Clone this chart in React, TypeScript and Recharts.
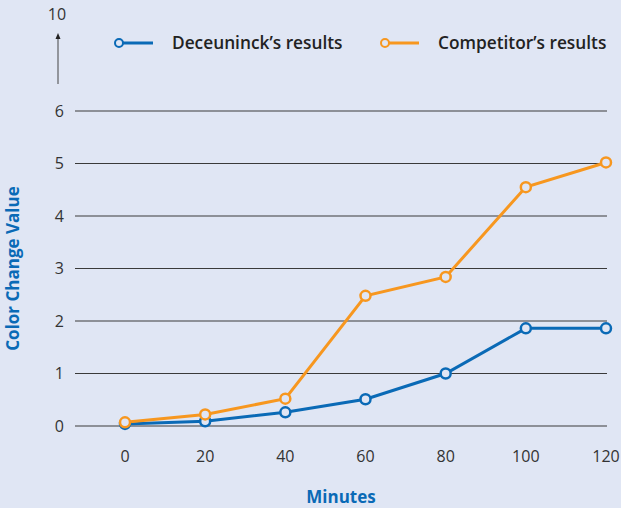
import { CartesianGrid, Label, Legend, Line, LineChart, XAxis, YAxis } from 'recharts'

const minutes = [0, 20, 40, 60, 80, 100, 120]
const deceuninck = [0.04, 0.09, 0.26, 0.51, 1.0, 1.86, 1.86]
const competitor = [0.07, 0.22, 0.52, 2.48, 2.84, 4.55, 5.02]
const yTicks = [0, 1, 2, 3, 4, 5, 6]
const seriesNames = ['Deceuninck’s results', 'Competitor’s results']

const BG = '#e0e6f4'
const BLUE = '#0a6ab6'
const ORANGE = '#f7971f'
const FONT = '"Open Sans", "Noto Sans", sans-serif'

const data = minutes.map((m, i) => ({
  min: m,
  deceuninck: deceuninck[i],
  competitor: competitor[i],
}))

function LegendContent() {
  const items = [
    { name: seriesNames[0], color: BLUE, x: 114 },
    { name: seriesNames[1], color: ORANGE, x: 380 },
  ]
  return (
    <svg width={621} height={30} style={{ display: 'block' }}>
      {items.map((it) => (
        <g key={it.name}>
          <line x1={it.x + 5} y1={15} x2={it.x + 39} y2={15} stroke={it.color} strokeWidth={3} />
          <circle cx={it.x + 5} cy={15} r={4} fill={BG} stroke={it.color} strokeWidth={2} />
          <text x={it.x + 58} y={21} fontSize={17.3} fontWeight={600} fill="#222" fontFamily={FONT}>
            {it.name}
          </text>
        </g>
      ))}
    </svg>
  )
}

export default function App() {
  return (
    <div style={{ position: 'absolute', left: 0, top: 0, width: 621, height: 508, background: BG }}>
      <LineChart
        width={621}
        height={508}
        data={data}
        margin={{ top: 111, right: 14, left: 0, bottom: 0 }}
      >
        <CartesianGrid vertical={false} stroke="#3a3a3a" strokeWidth={1} />
        <XAxis
          dataKey="min"
          type="number"
          domain={[0, 120]}
          ticks={minutes}
          padding={{ left: 50, right: 1 }}
          height={82}
          axisLine={false}
          tickLine={false}
          tickMargin={19}
          tick={{ fontSize: 16, fill: '#333', fontFamily: FONT }}
        >
          <Label
            value="Minutes"
            position="insideBottom"
            offset={5}
            style={{ fontSize: 17, fontWeight: 700, fill: BLUE, fontFamily: FONT }}
          />
        </XAxis>
        <YAxis
          domain={[0, 6]}
          ticks={yTicks}
          width={75}
          axisLine={false}
          tickLine={false}
          tickMargin={5}
          tick={{ fontSize: 16, fill: '#333', fontFamily: FONT }}
        >
          <Label
            value="Color Change Value"
            angle={-90}
            position="insideLeft"
            offset={13}
            style={{ textAnchor: 'middle', fontSize: 17, fontWeight: 700, fill: BLUE, fontFamily: FONT }}
          />
        </YAxis>
        <Legend
          layout="horizontal"
          verticalAlign="middle"
          align="center"
          wrapperStyle={{ top: 28, left: 0, width: 621 }}
          content={<LegendContent />}
        />
        <Line
          dataKey="deceuninck"
          name={seriesNames[0]}
          stroke={BLUE}
          strokeWidth={3}
          dot={{ r: 5, fill: BG, stroke: BLUE, strokeWidth: 2.5 }}
          isAnimationActive={false}
        />
        <Line
          dataKey="competitor"
          name={seriesNames[1]}
          stroke={ORANGE}
          strokeWidth={3}
          dot={{ r: 5, fill: BG, stroke: ORANGE, strokeWidth: 2.5 }}
          isAnimationActive={false}
        />
      </LineChart>
      <svg
        width={621}
        height={100}
        style={{ position: 'absolute', left: 0, top: 0, pointerEvents: 'none' }}
      >
        <text x={57} y={20} textAnchor="middle" fontSize={16} fill="#333" fontFamily={FONT}>
          10
        </text>
        <line x1={58} y1={84} x2={58} y2={38} stroke="#444" strokeWidth={1} />
        <path d="M55.5 39 L58 33 L60.5 39 Z" fill="#222" />
      </svg>
    </div>
  )
}
